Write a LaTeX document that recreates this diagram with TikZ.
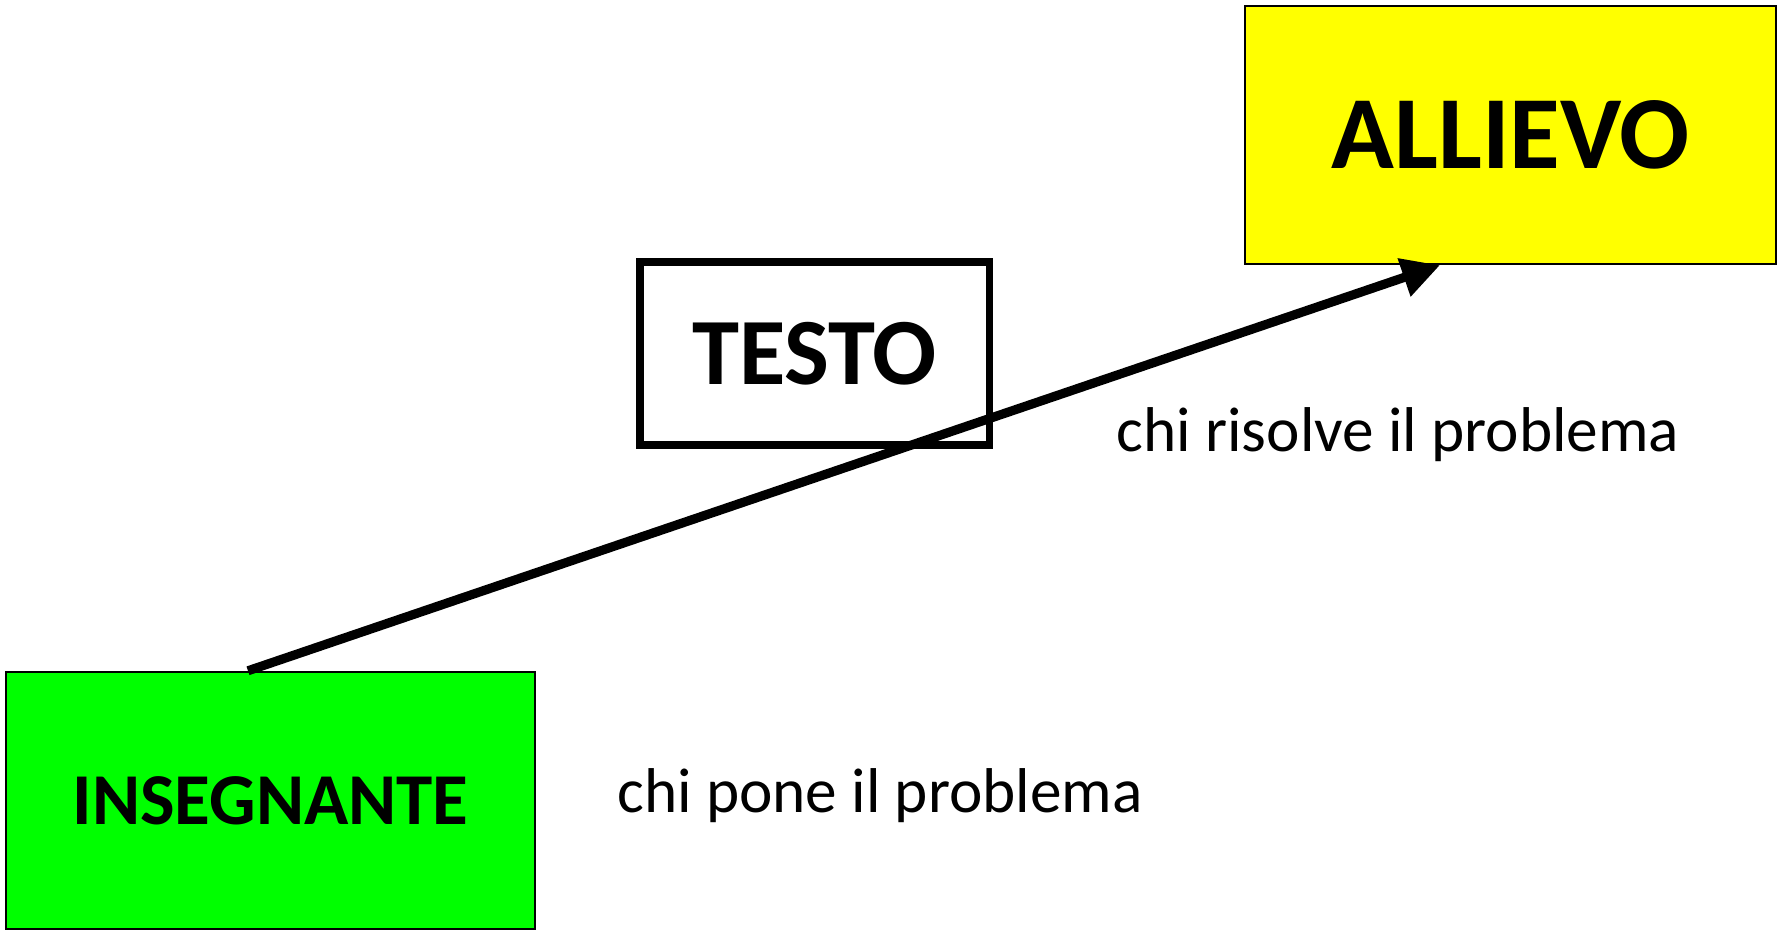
\documentclass[tikz,border=0pt]{standalone}
\usepackage{fontspec}
\setmainfont{Carlito}
\usetikzlibrary{arrows.meta}
\definecolor{boxyellow}{RGB}{255,255,0}
\definecolor{boxgreen}{RGB}{0,255,0}
\begin{document}
\begin{tikzpicture}[
  rolebox/.style={draw,line width=0.7pt,inner sep=0pt},
  note/.style={anchor=base,font=\fontsize{18}{22}\selectfont}]
  \useasboundingbox (0,0) rectangle (17.85,9.30);
  \node[rolebox,fill=boxyellow,minimum width=5.31cm,minimum height=2.58cm,
        font=\fontsize{29.5}{35}\selectfont\bfseries] (allievo) at (15.105,7.95) {ALLIEVO};
  \node[rolebox,fill=boxgreen,minimum width=5.29cm,minimum height=2.57cm,
        font=\fontsize{20.8}{25}\selectfont\bfseries] (insegnante) at (2.705,1.295) {INSEGNANTE};
  \node[rolebox,line width=2pt,minimum width=3.49cm,minimum height=1.83cm,
        font=\fontsize{27}{32}\selectfont\bfseries] (testo) at (8.145,5.765) {TESTO};
  \node[note] (risolve) at (13.98,4.78) {chi risolve il problema};
  \node[note] (pone) at (8.80,1.17) {chi pone il problema};
  \draw[line width=2.6pt,-{Triangle[length=0.38cm,width=0.38cm]}]
    ([xshift=-0.225cm]insegnante.north) -- ([xshift=-0.705cm]allievo.south);
\end{tikzpicture}
\end{document}
